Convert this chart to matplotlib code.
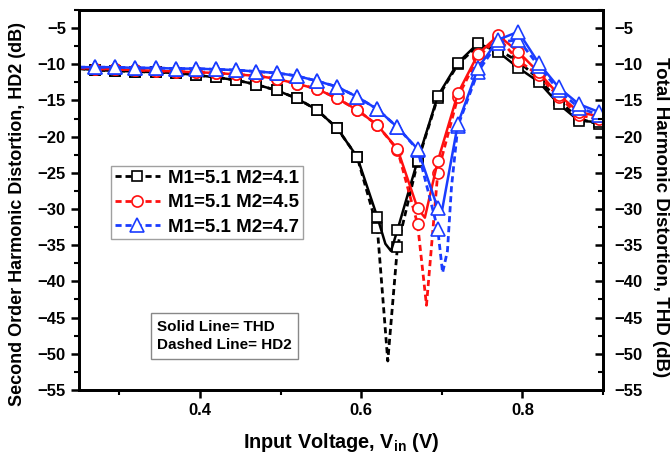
import numpy as np
import matplotlib
matplotlib.use('Agg')
import matplotlib.pyplot as plt
from matplotlib.ticker import MultipleLocator

plt.rcParams['font.family'] = ['Liberation Sans', 'DejaVu Sans']
plt.rcParams['font.weight'] = 'bold'
plt.rcParams['mathtext.fontset'] = 'custom'
plt.rcParams['mathtext.rm'] = 'Liberation Sans:bold'
plt.rcParams['mathtext.it'] = 'Liberation Sans:bold'
plt.rcParams['mathtext.bf'] = 'Liberation Sans:bold'

# Positions des marqueurs (V)
v_marks = [0.27, 0.295, 0.32, 0.345, 0.37, 0.395, 0.42, 0.445, 0.47, 0.495,
           0.52, 0.545, 0.57, 0.595, 0.62, 0.645, 0.67, 0.695, 0.72, 0.745,
           0.77, 0.795, 0.82, 0.845, 0.87, 0.895]

# M2 = 4.1 (noir)
v_thd_41 = [0.25, 0.27, 0.295, 0.32, 0.345, 0.37, 0.395, 0.42, 0.445, 0.47, 0.495,
            0.52, 0.545, 0.57, 0.595, 0.62, 0.63, 0.637, 0.645, 0.67, 0.695, 0.72,
            0.745, 0.77, 0.795, 0.82, 0.845, 0.87, 0.895]
thd_41 = [-10.6, -10.8, -10.9, -11.0, -11.1, -11.2, -11.5, -11.8, -12.2, -12.8, -13.6,
          -14.7, -16.3, -18.8, -22.8, -31.1, -34.8, -35.8, -32.9, -23.3, -14.4, -9.8,
          -7.1, -8.3, -10.5, -12.4, -15.5, -17.8, -18.0]
v_hd2_41 = [0.25, 0.27, 0.295, 0.32, 0.345, 0.37, 0.395, 0.42, 0.445, 0.47, 0.495,
            0.52, 0.545, 0.57, 0.595, 0.62, 0.633, 0.645, 0.67, 0.695, 0.72,
            0.745, 0.77, 0.795, 0.82, 0.845, 0.87, 0.895]
hd2_41 = [-10.6, -10.8, -10.9, -11.0, -11.1, -11.2, -11.5, -11.8, -12.2, -12.8, -13.6,
          -14.7, -16.3, -18.8, -22.8, -32.6, -51.0, -35.2, -23.5, -14.6, -10.0,
          -7.4, -8.0, -9.6, -12.0, -15.0, -17.5, -18.3]

# M2 = 4.5 (rouge)
v_thd_45 = [0.25, 0.27, 0.295, 0.32, 0.345, 0.37, 0.395, 0.42, 0.445, 0.47, 0.495,
            0.52, 0.545, 0.57, 0.595, 0.62, 0.645, 0.67, 0.679, 0.695, 0.72,
            0.745, 0.77, 0.795, 0.82, 0.845, 0.87, 0.895]
thd_45 = [-10.5, -10.6, -10.7, -10.8, -10.9, -11.0, -11.1, -11.2, -11.4, -11.6, -12.0,
          -12.7, -13.4, -14.7, -16.3, -18.4, -21.7, -29.9, -31.2, -23.4, -14.0,
          -8.6, -6.0, -8.3, -11.1, -14.2, -16.6, -17.2]
v_hd2_45 = [0.25, 0.27, 0.295, 0.32, 0.345, 0.37, 0.395, 0.42, 0.445, 0.47, 0.495,
            0.52, 0.545, 0.57, 0.595, 0.62, 0.645, 0.67, 0.681, 0.695, 0.72,
            0.745, 0.77, 0.795, 0.82, 0.845, 0.87, 0.895]
hd2_45 = [-10.5, -10.6, -10.7, -10.8, -10.9, -11.0, -11.1, -11.2, -11.4, -11.6, -12.0,
          -12.7, -13.4, -14.7, -16.3, -18.4, -21.8, -32.1, -43.3, -25.0, -14.5,
          -9.0, -6.3, -9.5, -11.5, -14.5, -17.0, -17.6]

# M2 = 4.7 (bleu)
v_thd_47 = [0.25, 0.27, 0.295, 0.32, 0.345, 0.37, 0.395, 0.42, 0.445, 0.47, 0.495,
            0.52, 0.545, 0.57, 0.595, 0.62, 0.645, 0.67, 0.695, 0.70, 0.72,
            0.745, 0.77, 0.795, 0.82, 0.845, 0.87, 0.895]
thd_47 = [-10.4, -10.4, -10.4, -10.5, -10.5, -10.6, -10.6, -10.7, -10.8, -11.0, -11.2,
          -11.6, -12.3, -13.1, -14.5, -16.2, -18.7, -21.7, -29.9, -30.4, -18.2,
          -10.5, -6.6, -5.5, -9.8, -13.2, -15.5, -16.6]
v_hd2_47 = [0.25, 0.27, 0.295, 0.32, 0.345, 0.37, 0.395, 0.42, 0.445, 0.47, 0.495,
            0.52, 0.545, 0.57, 0.595, 0.62, 0.645, 0.67, 0.695, 0.701, 0.707, 0.712,
            0.72, 0.745, 0.77, 0.795, 0.82, 0.845, 0.87, 0.895]
hd2_47 = [-10.4, -10.4, -10.4, -10.5, -10.5, -10.6, -10.6, -10.7, -10.8, -11.0, -11.2,
          -11.6, -12.3, -13.1, -14.5, -16.2, -18.7, -21.8, -32.8, -38.8, -35.8, -27.0,
          -18.5, -11.0, -7.0, -6.6, -10.2, -13.6, -16.0, -17.0]

labels = ['M1=5.1 M2=4.1', 'M1=5.1 M2=4.5', 'M1=5.1 M2=4.7']
colors = ['black', '#ff1010', '#1a3cff']
markers = ['s', 'o', '^']
msizes = [7.5, 8, 9.5]


def mark_idx(v):
    return [i for i, x in enumerate(v) if np.any(np.isclose(x, v_marks))]


fig = plt.figure(figsize=(6.7, 4.55), dpi=100)
ax = fig.add_axes([0.118, 0.143, 0.782, 0.835])

series = [(v_thd_41, thd_41, v_hd2_41, hd2_41),
          (v_thd_45, thd_45, v_hd2_45, hd2_45),
          (v_thd_47, thd_47, v_hd2_47, hd2_47)]

handles = []
for (vt, yt, vh, yh), lab, c, m, ms in zip(series, labels, colors, markers, msizes):
    h, = ax.plot(vh, yh, linestyle=(0, (2.2, 1.4)), color=c, lw=2,
                 marker=m, markevery=mark_idx(vh), ms=ms, mfc='white',
                 mec=c, mew=1.2, label=lab)
    ax.plot(vt, yt, '-', color=c, lw=1.8, marker=m, markevery=mark_idx(vt),
            ms=ms, mfc='white', mec=c, mew=1.2)
    handles.append(h)

ax.set_xlim(0.25, 0.9)
ax.set_ylim(-55, -2.5)
ax.set_xticks([0.4, 0.6, 0.8])
ax.xaxis.set_minor_locator(MultipleLocator(0.1))
ax.set_yticks(np.arange(-55, -4, 5))
ax.yaxis.set_minor_locator(MultipleLocator(2.5))
ax.tick_params(which='major', direction='out', length=6, width=1.8, labelsize=12)
ax.tick_params(which='minor', direction='out', length=3.5, width=1.5)
ax.tick_params(right=False, top=False, which='both')
for s in ax.spines.values():
    s.set_linewidth(2)

ax2 = ax.twinx()
ax2.set_ylim(-55, -2.5)
ax2.set_yticks(np.arange(-55, -4, 5))
ax2.yaxis.set_minor_locator(MultipleLocator(2.5))
ax2.tick_params(which='major', direction='in', length=6, width=1.8, labelsize=12, pad=8.5)
ax2.tick_params(which='minor', direction='in', length=3.5, width=1.5)
for s in ax2.spines.values():
    s.set_linewidth(2)

ax.set_xlabel(r'Input Voltage, V$_{\mathrm{in}}$ (V)', fontsize=14.3, fontweight='bold')
ax.xaxis.set_label_coords(0.501, -0.108)
ax.set_ylabel('Second Order Harmonic Distortion, HD2 (dB)', fontsize=13, fontweight='bold')
ax.yaxis.set_label_coords(-0.101, 0.462)
ax2.set_ylabel('Total Harmonic Distortion, THD (dB)', fontsize=13.5, fontweight='bold',
               rotation=270)
ax2.yaxis.set_label_coords(1.126, 0.455)

leg = ax.legend(handles=handles, loc='upper left', bbox_to_anchor=(0.061, 0.589),
                borderaxespad=0, fancybox=False, edgecolor='#888888',
                prop={'size': 13.5, 'weight': 'bold'}, handlelength=2.4,
                labelspacing=0.38, borderpad=0.2, handletextpad=0.43)
leg.get_frame().set_linewidth(1)

ax.text(0.149, 0.142, 'Solid Line= THD\nDashed Line= HD2', transform=ax.transAxes,
        fontsize=11, fontweight='bold', va='center', linespacing=1.45,
        bbox=dict(boxstyle='square,pad=0.4', fc='white', ec='#888888', lw=1))

fig.savefig('out.png', dpi=100)
